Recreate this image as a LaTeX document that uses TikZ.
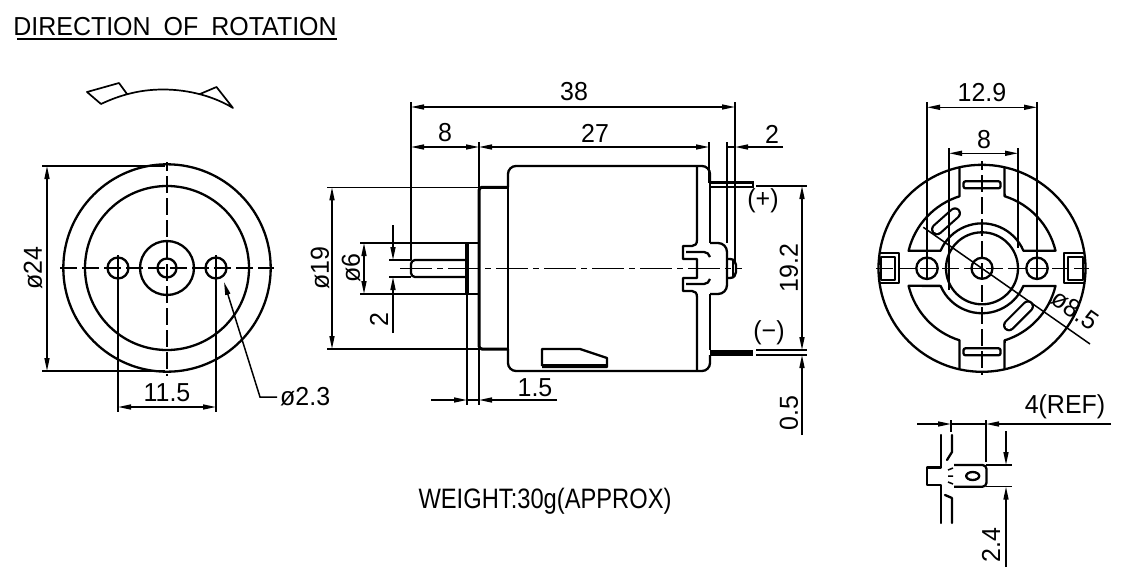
\documentclass[tikz,border=0pt]{standalone}
\usepackage{fontspec}
\setmainfont{Liberation Sans}[FakeStretch=0.96]
\usetikzlibrary{arrows.meta}
\tikzset{
  thickl/.style={line width=2.3pt,line join=round},
  thinl/.style={line width=1.5pt},
  dimn/.style={line width=1.5pt,{Triangle[length=13pt,width=5pt]}-{Triangle[length=13pt,width=5pt]}},
  tipend/.style={line width=1.5pt,-{Triangle[length=13pt,width=5pt]}},
  cdash/.style={line width=1.5pt,dash pattern=on 17pt off 5pt},
  cdot/.style={line width=1.5pt,dash pattern=on 32pt off 5pt on 6pt off 5pt},
  lbl/.style={inner sep=0pt,font=\fontsize{26}{26}\selectfont}
}
\begin{document}
\begin{tikzpicture}[x=1pt,y=-1pt]
\useasboundingbox (0,0) rectangle (1130,586);
% title
\node[lbl] (title) at (175,27) {DIRECTION\hspace{13pt}OF\hspace{13pt}ROTATION};
\draw[line width=2pt] (17,39) -- (337,39);
% rotation arrow
\draw[line width=1.7pt,line join=round] (127,94) -- (119,83) -- (87,92) -- (101,104) .. controls (120,95) and (140,89.5) .. (163,89.5) .. controls (190,89.5) and (215,97) .. (233,108) -- (216.5,87) -- (200,94);
% left view
\draw[thickl] (167,268) circle[radius=103.7] circle[radius=82] circle[radius=27] circle[radius=9.5];
\draw[thickl] (118,268) circle[radius=10.5] (216,268) circle[radius=10.5];
\draw[cdash] (60,268) -- (274,268);
\draw[cdash,dash phase=8pt] (167,162) -- (167,376);
\draw[thinl] (118,255) -- (118,412) (216,255) -- (216,412);
\draw[thinl] (42,166) -- (165,166) (42,371) -- (165,371);
\draw[dimn] (47,166) -- (47,371);
\draw[dimn] (118,407) -- (216,407);
\node[lbl,rotate=90] (d24) at (33,268) {ø24};
\node[lbl] (d115) at (167,393) {11.5};
\draw[thinl,{Triangle[length=13pt,width=5pt]}-] (224,282) -- (260,397) -- (277,397);
\node[lbl,anchor=west] (d23) at (280,397) {ø2.3};
% middle view
\draw[thickl,rounded corners=8pt] (508,187) -- (508,166) -- (710,166) -- (710,183);
\draw[thickl,rounded corners=8pt] (710,355) -- (710,371) -- (508,371) -- (508,349);
\draw[thickl] (508,187) -- (508,349);
\draw[thickl] (710,183) -- (710,243) (710,294) -- (710,350);
\draw[thickl] (697,166) -- (697,240) .. controls (697,244) and (695,246) .. (692,246) -- (683,246) -- (683,259) -- (697,259) -- (697,278) -- (683,278) -- (683,291) -- (692,291) .. controls (695,291) and (697,293) .. (697,297) -- (697,371);
\draw[thickl] (686,252) -- (704,252) .. controls (707,252) and (709,254) .. (710,257);
\draw[thickl] (686,284) -- (704,284) .. controls (707,284) and (709,282) .. (710,279);
\draw[thickl] (710,243) -- (718,243) .. controls (723,243) and (727,247) .. (727,252) -- (727,285) .. controls (727,290) and (723,294) .. (718,294) -- (710,294);
\draw[thickl] (727,259) -- (730,259) .. controls (734,259) and (736,262) .. (736,265) -- (736,272) .. controls (736,275) and (734,278) .. (730,278) -- (727,278);
\draw[thinl] (733,260) -- (733,277);
% boss and plate
\draw[line width=3pt,rounded corners=3pt] (508,187.3) -- (479,187.3) -- (479,349) -- (508,349);
\draw[line width=3.6pt] (467,243) -- (467,294);
\draw[thickl] (467,243) -- (479,243) (467,294) -- (479,294);
\draw[thickl,rounded corners=4pt] (467,260) -- (411,260) -- (411,277) -- (467,277);
% sticker
\draw[thickl] (542,366) -- (542,349) -- (580,349) -- (607,358) -- (607,367) -- (542,367);
\draw[line width=3.4pt] (542,366) -- (607,366);
% terminals
\draw[line width=2.6pt,fill=white] (710,182.5) rectangle (753,187);
\fill (710,350) rectangle (753,355.5);
% centre line
\draw[cdot] (400,268.5) -- (742,268.5);
% middle dimensions
\draw[thinl] (411,102) -- (411,260) (735,102) -- (735,262);
\draw[dimn] (411,107) -- (735,107);
\node[lbl] (d38) at (574,92) {38};
\draw[thinl] (479,142) -- (479,187) (709,142) -- (709,183) (727,142) -- (727,243);
\draw[dimn] (411,147) -- (479,147);
\draw[dimn] (479,147) -- (709,147);
\node[lbl] (d8) at (445,133) {8};
\node[lbl] (d27) at (595,133) {27};
\draw[thinl] (727,147) -- (735,147);
\draw[tipend] (783,147) -- (735,147);
\node[lbl] (d2a) at (772,134) {2};
\draw[thinl] (327,187.3) -- (479,187.3) (327,349) -- (479,349);
\draw[dimn] (332,187.3) -- (332,349);
\node[lbl,rotate=90] (d19) at (320,268) {ø19};
\draw[thinl] (360,243) -- (467,243) (360,294) -- (467,294);
\draw[dimn] (364,243) -- (364,294);
\node[lbl,rotate=90] (d6) at (351,268) {ø6};
\draw[thinl] (389,260) -- (411,260) (389,277) -- (411,277);
\draw[tipend] (393,225) -- (393,260);
\draw[tipend] (393,333) -- (393,277);
\node[lbl,rotate=90] (d2b) at (379,320) {2};
\draw[thinl] (467,294) -- (467,405) (479,349) -- (479,405);
\draw[tipend] (431,400) -- (467,400);
\draw[thinl] (467,400) -- (479,400);
\draw[tipend] (557,400) -- (479,400);
\node[lbl] (d15) at (535,388) {1.5};
\draw[thinl] (756,186) -- (807,186) (756,350) -- (807,350) (756,355) -- (807,355);
\draw[dimn] (802,186) -- (802,350);
\draw[tipend] (802,435) -- (802,355);
\node[lbl,rotate=90] (d192) at (789,268) {19.2};
\node[lbl,rotate=90] (d05) at (789,413) {0.5};
\node[lbl] (plus) at (763,201) {(+)};
\node[lbl] (minus) at (769,333) {(−)};
% weight
\node[lbl] (weight) at (545,501) {\scalebox{0.95}[1.08]{WEIGHT:30g(APPROX)}};
% right view
\begin{scope}[shift={(982,268.3)},x=1pt,y=1pt]
\draw[thickl] (0,0) circle[radius=103.5] circle[radius=10.5];
\draw[thickl] (-55,0) circle[radius=10.7] (55,0) circle[radius=10.7];
\draw[thickl] (0,0) circle[radius=36];
\foreach \s in {1,-1}{
\begin{scope}[yscale=\s]
\draw[thickl] (-22.5,101) -- (-22.5,72) arc[start angle=107.4,end angle=166.5,radius=75.6] -- (-41.4,17.6) arc[start angle=156.9,end angle=23.1,radius=45] -- (73.5,17.6) arc[start angle=13.5,end angle=72.6,radius=75.6] -- (22.5,101);
\draw[thickl,rounded corners=2pt] (-18.5,87) rectangle (18.5,80);
\end{scope}}
% side tabs
\draw[thickl] (-103,-15) -- (-83,-15) -- (-83,15) -- (-103,15);
\draw[thickl] (-101,-11.5) -- (-87,-11.5) -- (-87,11.5) -- (-101,11.5) -- cycle;
\draw[thickl] (103,-15) -- (82,-15) -- (82,15) -- (103,15);
\draw[thickl] (101,-11.5) -- (86,-11.5) -- (86,11.5) -- (101,11.5) -- cycle;
% curved slots
\draw[line width=12pt,line cap=round] (-27,55) -- (-45,39);
\draw[line width=7.6pt,line cap=round,white] (-27,55) -- (-45,39);
\draw[line width=12pt,line cap=round] (27,-57) -- (46,-38);
\draw[line width=7.6pt,line cap=round,white] (27,-57) -- (46,-38);
% centre lines
\draw[cdash] (-106,0) -- (107,0);
\draw[cdash,dash phase=8pt] (0,107) -- (0,-107);
\draw[thinl] (-55,166) -- (-55,-12) (55,166) -- (55,-12);
\draw[thinl] (-33,120) -- (-33,-22) (36,120) -- (36,20);
\draw[dimn] (-55,161) -- (55,161);
\draw[dimn] (-33,115) -- (36,115);
\draw[thinl] (-58.7,41) -- (108,-75.7);
\end{scope}
\node[lbl] (d129) at (982,93) {12.9};
\node[lbl] (d8b) at (984,140) {8};
\node[lbl,rotate=-35] (d85) at (1075,310) {ø8.5};
% detail view
\draw[thickl,line cap=round] (941,435) -- (941,467.5) -- (927,467.5) -- (927,485) -- (941,485) -- (941,523);
\draw[thickl,line cap=round] (952,435) -- (952,452) -- (947,460);
\draw[thickl,line cap=round] (952,523) -- (952,498) (945,495) -- (952,498);
\draw[thickl,rounded corners=4pt] (954,465) -- (986.5,465) -- (986.5,486.7) -- (954,486.7);
\draw[thickl] (972.7,476) ellipse[x radius=6.5,y radius=4];
\draw[thinl] (948,470) -- (953,468) (948,476) -- (953,476) (948,482) -- (953,484);
\draw[thinl] (986,465) -- (1011.7,465) (986,486.7) -- (1011.7,486.7);
\draw[thinl] (951,420) -- (951,432) (986,420) -- (986,462);
\draw[tipend] (917,424) -- (951,424);
\draw[thinl] (951,424) -- (986,424);
\draw[tipend] (1111,424) -- (986,424);
\draw[tipend] (1006,431) -- (1006,465);
\draw[tipend] (1006,567) -- (1006,486.7);
\node[lbl] (ref) at (1065,407) {4(REF)};
\node[lbl,rotate=90] (d24b) at (991,545) {2.4};
\end{tikzpicture}
\end{document}
